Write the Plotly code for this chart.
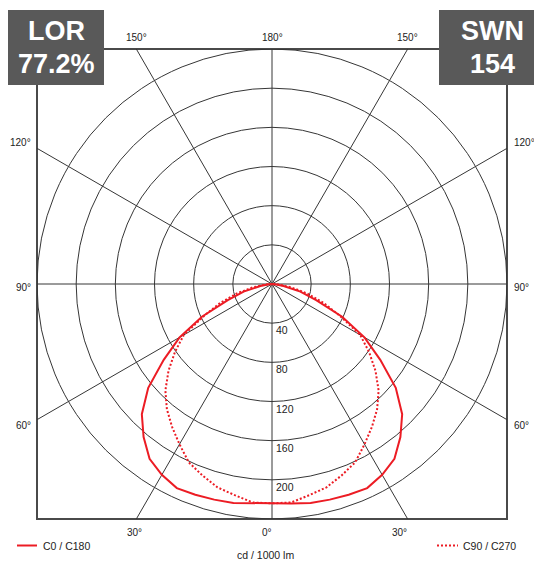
import numpy as np
import plotly.graph_objects as go

# Luminous intensity (cd / 1000 lm) per gamma angle, both planes symmetric
gamma = [0, 5, 10, 15, 20, 25, 30, 35, 40, 45, 50, 55, 60, 65, 70, 75, 80, 85, 90]
c0_c180 = [224, 225, 227, 228, 229, 230, 225, 218, 204, 188, 165, 135, 109, 79, 48, 30, 12, 3, 0]
c90_c270 = [224, 224, 219, 215, 208, 201, 189, 178, 167, 154, 138, 121, 104, 76, 56, 37, 20, 7, 0]

ring_values = [40, 80, 120, 160, 200, 240]
ring_labels = ["40", "80", "120", "160", "200"]
spoke_angles = [0, 30, 60, 90, 120, 150, 180, 210, 240, 270, 300, 330]
series_names = ["C0 / C180", "C90 / C270"]
lor_text = ["LOR", "77.2%"]
swn_text = ["SWN", "154"]
unit_label = "cd / 1000 lm"

RMAX = 240
W, H = 534, 561
ML, MR, MT, MB = 37, 27, 49, 42
FONT = "Liberation Sans, Arial, sans-serif"
RED = "rgb(236,28,36)"
GRID = "#363636"


def xp(px):
    return (px - ML) / (W - ML - MR)


def yp(py):
    return (H - MB - py) / (H - MT - MB)


def to_xy(angles, values, side):
    a = np.radians(np.asarray(angles, dtype=float))
    v = np.asarray(values, dtype=float)
    return side * v * np.sin(a), -v * np.cos(a)


def full_curve(values):
    xr, yr = to_xy(gamma, values, 1)
    xl, yl = to_xy(gamma, values, -1)
    x = np.concatenate([xl[::-1], xr[1:]])
    y = np.concatenate([yl[::-1], yr[1:]])
    return x, y


fig = go.Figure()

x0, y0 = full_curve(c0_c180)
fig.add_trace(go.Scatter(x=x0, y=y0, mode="lines", name=series_names[0],
                         line=dict(color=RED, width=2), showlegend=False,
                         hoverinfo="skip"))
x1, y1 = full_curve(c90_c270)
fig.add_trace(go.Scatter(x=x1, y=y1, mode="lines", name=series_names[1],
                         line=dict(color=RED, width=2, dash="2px,2px"),
                         showlegend=False, hoverinfo="skip"))

shapes = []
# concentric intensity rings
for r in ring_values:
    shapes.append(dict(type="circle", xref="x", yref="y", x0=-r, y0=-r, x1=r, y1=r,
                       line=dict(color=GRID, width=1), layer="below"))

# spokes running out to the square frame
for g in spoke_angles:
    dx, dy = np.sin(np.radians(g)), -np.cos(np.radians(g))
    t = RMAX / max(abs(dx), abs(dy))
    shapes.append(dict(type="line", xref="x", yref="y", x0=0, y0=0,
                       x1=float(dx * t), y1=float(dy * t),
                       line=dict(color=GRID, width=1), layer="below"))

# frame
shapes.append(dict(type="rect", xref="paper", yref="paper", x0=0, y0=0, x1=1, y1=1,
                   line=dict(color="#4a4a4a", width=2), layer="below"))

# info boxes
shapes.append(dict(type="rect", xref="paper", yref="paper", x0=xp(8), x1=xp(104),
                   y0=yp(85), y1=yp(10), fillcolor="#595959", line=dict(width=0),
                   layer="above"))
shapes.append(dict(type="rect", xref="paper", yref="paper", x0=xp(439), x1=xp(545),
                   y0=yp(85), y1=yp(10), fillcolor="#595959", line=dict(width=0),
                   layer="above"))

# legend samples
shapes.append(dict(type="line", xref="paper", yref="paper", x0=xp(17), x1=xp(37),
                   y0=yp(545.5), y1=yp(545.5), line=dict(color=RED, width=2)))
shapes.append(dict(type="line", xref="paper", yref="paper", x0=xp(437), x1=xp(458),
                   y0=yp(545.5), y1=yp(545.5), line=dict(color=RED, width=2, dash="2px,2px")))

annotations = []
lab_font = dict(family=FONT, size=10, color="#222")

# ring value labels along the 0 deg axis
for r, t in zip(ring_values, ring_labels):
    annotations.append(dict(x=0, y=-r, xref="x", yref="y", text=t, showarrow=False,
                            xanchor="left", yanchor="middle", xshift=2, yshift=-7,
                            font=dict(family=FONT, size=10.5, color="#222")))

# angle labels placed where the spokes meet the frame
bottom_shift = {-30: -2, 0: -5, 30: -8}
side_shift = {60: -6, 90: -3, 120: 6}
for g in spoke_angles:
    s = g if g <= 180 else g - 360
    dx, dy = np.sin(np.radians(g)), -np.cos(np.radians(g))
    t = RMAX / max(abs(dx), abs(dy))
    ex, ey = float(dx * t), float(dy * t)
    txt = f"{abs(s)}°"
    if abs(dy) >= abs(dx) - 1e-9 and abs(abs(s) - 90) > 1:
        if dy < 0:
            annotations.append(dict(x=ex, y=ey, xref="x", yref="y", text=txt,
                                    showarrow=False, xanchor="center", yanchor="middle",
                                    yshift=-13, xshift=bottom_shift.get(s, 0),
                                    font=lab_font))
        else:
            annotations.append(dict(x=ex, y=ey, xref="x", yref="y", text=txt,
                                    showarrow=False, xanchor="center", yanchor="middle",
                                    yshift=12, font=lab_font))
    else:
        if dx < 0:
            annotations.append(dict(x=ex, y=ey, xref="x", yref="y", text=txt,
                                    showarrow=False, xanchor="right", yanchor="middle",
                                    xshift=-4, yshift=side_shift[abs(s)], font=lab_font))
        else:
            annotations.append(dict(x=ex, y=ey, xref="x", yref="y", text=txt,
                                    showarrow=False, xanchor="left", yanchor="middle",
                                    xshift=5, yshift=side_shift[abs(s)], font=lab_font))

box_font = dict(family=FONT, size=27, color="white", weight="bold")
for txt, py in zip(lor_text, [30.5, 64]):
    annotations.append(dict(x=xp(56), y=yp(py), xref="paper", yref="paper", text=txt,
                            showarrow=False, xanchor="center", yanchor="middle",
                            font=box_font))
for txt, py in zip(swn_text, [30.5, 64]):
    annotations.append(dict(x=xp(492), y=yp(py), xref="paper", yref="paper", text=txt,
                            showarrow=False, xanchor="center", yanchor="middle",
                            font=box_font))

leg_font = dict(family=FONT, size=10.5, color="#222")
annotations.append(dict(x=xp(41), y=yp(545.5), xref="paper", yref="paper",
                        text=series_names[0], showarrow=False, xanchor="left",
                        yanchor="middle", font=leg_font))
annotations.append(dict(x=xp(461), y=yp(545.5), xref="paper", yref="paper",
                        text=series_names[1], showarrow=False, xanchor="left",
                        yanchor="middle", font=leg_font))
annotations.append(dict(x=xp(265), y=yp(554.5), xref="paper", yref="paper",
                        text=unit_label, showarrow=False, xanchor="center",
                        yanchor="middle", font=leg_font))

axis = dict(range=[-RMAX, RMAX], showgrid=False, zeroline=False, showticklabels=False,
            ticks="", showline=False, fixedrange=True)
fig.update_layout(
    width=W, height=H, autosize=False,
    margin=dict(l=ML, r=MR, t=MT, b=MB, pad=0),
    paper_bgcolor="white", plot_bgcolor="white",
    xaxis=axis, yaxis=axis,
    shapes=shapes, annotations=annotations,
    showlegend=False,
)

fig.write_html("out.html", config={"displayModeBar": False})
